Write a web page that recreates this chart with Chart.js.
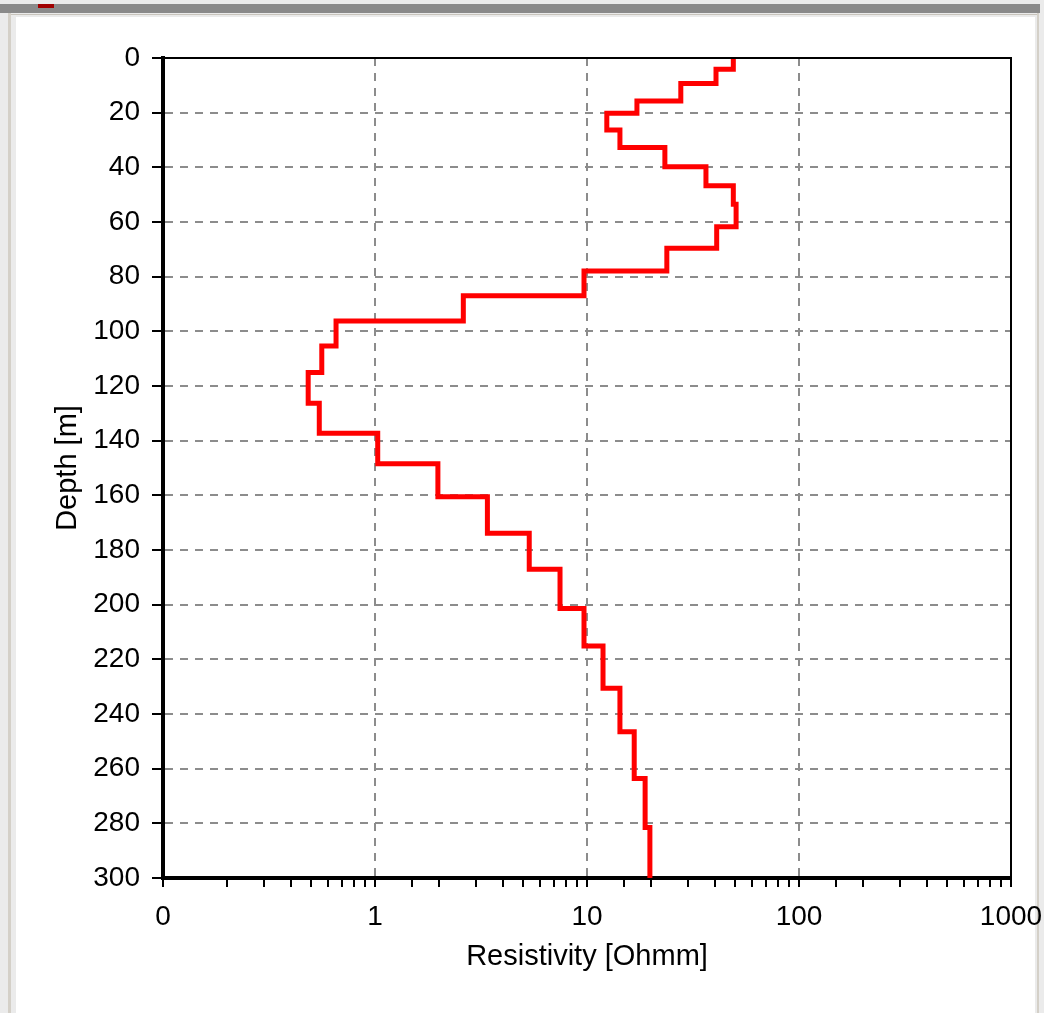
<!DOCTYPE html>
<html>
<head>
<meta charset="utf-8">
<title>Resistivity profile</title>
<script src="https://cdn.jsdelivr.net/npm/chart.js@4.4.1/dist/chart.umd.min.js"></script>
<style>
  html, body {
    margin: 0;
    padding: 0;
    width: 1044px;
    height: 1013px;
    overflow: hidden;
    background: #ebebeb;
  }
  .bar {
    position: absolute;
    left: 0;
    top: 4px;
    width: 1040px;
    height: 9px;
    background: #8a8a8a;
  }
  .bar .mark {
    position: absolute;
    left: 38px;
    top: 0;
    width: 16px;
    height: 4px;
    background: #a00000;
  }
  .edge-left {
    position: absolute;
    left: 8px;
    top: 13px;
    width: 3px;
    height: 1000px;
    background: #d4d0c8;
  }
  .line-top {
    position: absolute;
    left: 11px;
    top: 14px;
    width: 1026px;
    height: 1px;
    background: #c8c4bc;
  }
  .panel {
    position: absolute;
    left: 16px;
    top: 17px;
    width: 1019px;
    height: 996px;
    background: #ffffff;
  }
  .edge-right {
    position: absolute;
    left: 1037px;
    top: 13px;
    width: 2px;
    height: 1000px;
    background: #d4d0c8;
  }
  #chartBox {
    position: absolute;
    left: 0;
    top: 0;
    width: 1044px;
    height: 1013px;
  }
</style>
</head>
<body>
<div class="bar"><div class="mark"></div></div>
<div class="edge-left"></div>
<div class="line-top"></div>
<div class="panel"></div>
<div class="edge-right"></div>
<div id="chartBox"><canvas id="profile" width="1044" height="1013"></canvas></div>

<script>
  // layer tops in metres
  const depthTop = [
    0, 4.1, 9.3, 15.7, 20.2, 26.3, 32.7, 39.8, 46.7, 53.5,
    61.7, 69.6, 77.9, 87.0, 96.2, 105.4, 115.1, 126.3, 137.3, 148.4,
    160.5, 173.9, 187.0, 201.4, 215.1, 230.6, 246.5, 263.6, 281.5
  ];
  // resistivity of each layer (Ohmm)
  const resistivity = [
    49.0, 40.6, 27.7, 17.2, 12.4, 14.3, 23.3, 36.4, 49.0, 50.5,
    40.9, 23.8, 9.68, 2.61, 0.655, 0.561, 0.484, 0.546, 1.03, 1.98,
    3.39, 5.34, 7.46, 9.68, 11.9, 14.3, 16.7, 18.8, 19.8
  ];
  const maxDepth = 300;
  const depthTicks = [0, 20, 40, 60, 80, 100, 120, 140, 160, 180, 200, 220, 240, 260, 280, 300];
  const resistivityTicks = [0.1, 1, 10, 100, 1000];
  const resistivityTickLabels = ["0", "1", "10", "100", "1000"];

  const isDecade = (v) => Math.abs(Math.log10(v) - Math.round(Math.log10(v))) < 1e-6;

  const points = depthTop.map((d, i) => ({ x: resistivity[i], y: d }));
  points.push({ x: resistivity[resistivity.length - 1], y: maxDepth });

  Chart.defaults.font.family = '"Liberation Sans", Arial, sans-serif';
  Chart.defaults.font.size = 28;
  Chart.defaults.color = "#000";

  const frame = {
    id: "frame",
    afterDatasetsDraw(chart) {
      const { ctx, chartArea } = chart;
      ctx.save();
      ctx.strokeStyle = "#000";
      ctx.lineWidth = 2;
      ctx.beginPath();
      ctx.moveTo(chartArea.left, chartArea.top);
      ctx.lineTo(chartArea.right, chartArea.top);
      ctx.lineTo(chartArea.right, chartArea.bottom);
      ctx.stroke();
      ctx.restore();
    },
  };

  new Chart(document.getElementById("profile"), {
    type: "scatter",
    data: {
      datasets: [
        {
          label: "Resistivity",
          data: points,
          showLine: true,
          stepped: "after",
          borderColor: "#ff0000",
          borderWidth: 5,
          pointRadius: 0,
          fill: false,
        },
      ],
    },
    options: {
      responsive: false,
      animation: false,
      layout: { padding: { left: 50, top: 58, right: 33, bottom: 0 } },
      plugins: {
        legend: { display: false },
        tooltip: { enabled: false },
      },
      scales: {
        x: {
          type: "logarithmic",
          position: "bottom",
          min: resistivityTicks[0],
          max: resistivityTicks[resistivityTicks.length - 1],
          afterFit(scale) {
            scale.height = 135;
            // let the last label hang past the plot edge, as in the original
            scale.paddingLeft = 0;
            scale.paddingRight = 0;
          },
          title: {
            display: true,
            text: "Resistivity [Ohmm]",
            font: { size: 29 },
            padding: { top: 0, bottom: 39 },
          },
          border: { color: "#000", width: 4, dash: [8, 7] },
          grid: {
            color: (ctx) =>
              ctx.tick && isDecade(ctx.tick.value) ? "#8c8c8c" : "rgba(0,0,0,0)",
            lineWidth: 2,
            tickColor: "#000",
            tickLength: 9,
            tickWidth: 2,
          },
          ticks: {
            autoSkip: false,
            maxRotation: 0,
            padding: 13,
            callback: (value) => {
              const i = resistivityTicks.findIndex((t) => Math.abs(t - value) < 1e-9);
              return i >= 0 ? resistivityTickLabels[i] : "";
            },
          },
        },
        y: {
          type: "linear",
          reverse: true,
          min: 0,
          max: maxDepth,
          afterFit(scale) {
            scale.width = 113;
          },
          afterBuildTicks(scale) {
            scale.ticks = depthTicks.map((v) => ({ value: v }));
          },
          title: {
            display: true,
            text: "Depth [m]",
            font: { size: 29 },
            padding: { top: 1, bottom: 0 },
          },
          border: { color: "#000", width: 4, dash: [8, 7] },
          grid: {
            color: "#8c8c8c",
            lineWidth: 2,
            tickColor: "#000",
            tickLength: 11,
            tickWidth: 2,
          },
          ticks: {
            padding: 12,
          },
        },
      },
    },
    plugins: [frame],
  });
</script>
</body>
</html>
